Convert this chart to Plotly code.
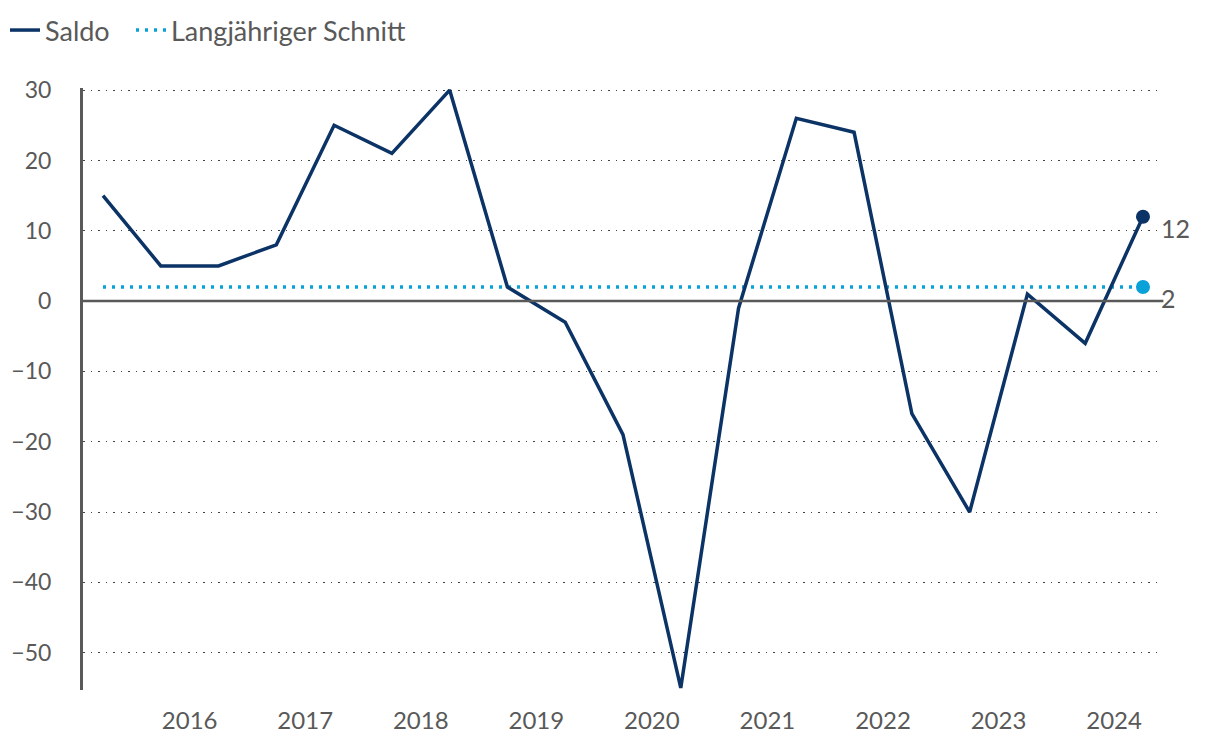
import plotly.graph_objects as go

periods = [2015.75, 2016.25, 2016.75, 2017.25, 2017.75, 2018.25, 2018.75, 2019.25, 2019.75,
           2020.25, 2020.75, 2021.25, 2021.75, 2022.25, 2022.75, 2023.25, 2023.75, 2024.25, 2024.75]
saldo = [15, 5, 5, 8, 25, 21, 30, 2, -3, -19, -55, -1, 26, 24, -16, -30, 1, -6, 12]
schnitt = [2] * len(periods)
year_ticks = [2016.5, 2017.5, 2018.5, 2019.5, 2020.5, 2021.5, 2022.5, 2023.5, 2024.5]
year_labels = ["2016", "2017", "2018", "2019", "2020", "2021", "2022", "2023", "2024"]
y_ticks = [30, 20, 10, 0, -10, -20, -30, -40, -50]

DARK = "#0b3366"
LIGHT = "#0aa0d8"
GRAY = "#595959"
FONT = "Source Sans Pro, Lato, sans-serif"

fig = go.Figure()
fig.add_trace(go.Scatter(x=periods, y=schnitt, mode="lines", name="Langjähriger Schnitt",
                         line=dict(color=LIGHT, width=3.5, dash="3px,6px"), legend="legend2"))
fig.add_trace(go.Scatter(x=periods, y=saldo, mode="lines", name="Saldo",
                         line=dict(color=DARK, width=3.5), legend="legend"))
# end markers
fig.add_trace(go.Scatter(x=[periods[-1]], y=[schnitt[-1]], mode="markers", showlegend=False,
                         marker=dict(color=LIGHT, size=14)))
fig.add_trace(go.Scatter(x=[periods[-1]], y=[saldo[-1]], mode="markers", showlegend=False,
                         marker=dict(color=DARK, size=14)))

for val in (saldo[-1], schnitt[-1]):
    fig.add_annotation(x=periods[-1], y=val, text=str(val), showarrow=False,
                       xanchor="left", yanchor="middle", xshift=16, yshift=-11,
                       font=dict(size=25, color=GRAY, family=FONT))

fig.add_shape(type="line", xref="paper", yref="y", x0=0, x1=1.005, y0=0, y1=0,
              line=dict(color=GRAY, width=2.5), layer="above")

legend_common = dict(orientation="h", xref="container", yref="container",
                     xanchor="left", y=1 - 6 / 748, yanchor="top",
                     font=dict(size=27, color=GRAY), itemwidth=30,
                     bgcolor="rgba(0,0,0,0)")

fig.update_layout(
    width=1220, height=748,
    margin=dict(l=83, r=62, t=88, b=58, autoexpand=False),
    paper_bgcolor="white", plot_bgcolor="white",
    font=dict(family=FONT, size=24, color=GRAY),
    legend=dict(x=5 / 1220, **legend_common),
    legend2=dict(x=131 / 1220, **legend_common),
    showlegend=True,
)
fig.update_xaxes(range=[2015.577, 2024.88], tickvals=year_ticks, ticktext=year_labels,
                 showgrid=False, zeroline=False, showline=False, ticks="",
                 ticklabelstandoff=14, tickfont=dict(size=24, color=GRAY))
fig.update_yaxes(range=[-55.3, 30.3], tickvals=y_ticks, showgrid=True,
                 gridcolor="#444444", griddash="1.5px,6px", gridwidth=1,
                 zeroline=False, showline=True, linecolor=GRAY, linewidth=3,
                 ticks="", ticklabelstandoff=24, tickfont=dict(size=23, color=GRAY))

fig.write_html("out.html", config={"displayModeBar": False},
               post_script="document.body.style.margin='0';document.body.style.overflow='hidden';")
